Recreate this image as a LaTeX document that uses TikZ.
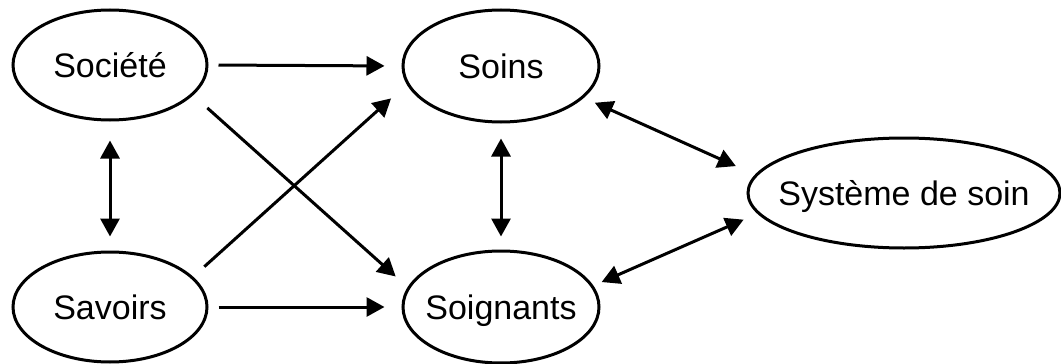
\documentclass[tikz,border=0pt]{standalone}
\usepackage{fontspec}
\setmainfont{Liberation Sans}
\usetikzlibrary{shapes.geometric,arrows.meta}
\newcommand{\ctxt}[1]{\makebox[0pt]{\raisebox{-0.358em}[0pt][0pt]{#1}}}
\tikzset{
  ell/.style={ellipse, draw, line width=3pt, inner sep=0pt,
    font=\fontsize{34}{40}\selectfont},
  conn/.style={line width=3pt, -{Triangle[length=18pt,width=19pt]}},
  bconn/.style={line width=3pt, {Triangle[length=18pt,width=19pt]}-{Triangle[length=18pt,width=19pt]}}
}
\begin{document}
\begin{tikzpicture}[x=1pt,y=-1pt]
\useasboundingbox (0,0) rectangle (1061,364);
\node[ell, minimum width=194pt, minimum height=110pt] (soc) at (110,65) {\ctxt{Société}};
\node[ell, minimum width=194pt, minimum height=110pt] (sav) at (110,307) {\ctxt{Savoirs}};
\node[ell, minimum width=196pt, minimum height=112pt] (soins) at (501,66) {\ctxt{Soins}};
\node[ell, minimum width=196pt, minimum height=112pt] (soign) at (501,307) {\ctxt{Soignants}};
\node[ell, minimum width=312pt, minimum height=110pt] (sys) at (904,193) {\ctxt{Système de soin}};
% horizontal
\draw[conn, shorten <=10pt, shorten >=17pt] (soc.east) -- (soins.west);
\draw[conn, shorten <=10pt, shorten >=17pt] (sav.east) -- (soign.west);
% vertical
\draw[bconn, shorten <=19pt, shorten >=14pt] (soc.south) -- (sav.north);
\draw[bconn, shorten <=15pt, shorten >=13pt] (soins.south) -- (soign.north);
% diagonals
\draw[conn, shorten <=19pt, shorten >=16pt] (soc.-20.6) -- (soign.168.95);
\draw[conn, shorten <=15pt, shorten >=21pt] (sav.20.4) -- (soins.-169.7);
% to system
\draw[bconn, shorten <=12pt, shorten >=21pt] (soins.-21.6) -- (sys.173.25);
\draw[bconn, shorten <=9pt, shorten >=15pt] (soign.13.2) -- (sys.-172.7);
\end{tikzpicture}
\end{document}
